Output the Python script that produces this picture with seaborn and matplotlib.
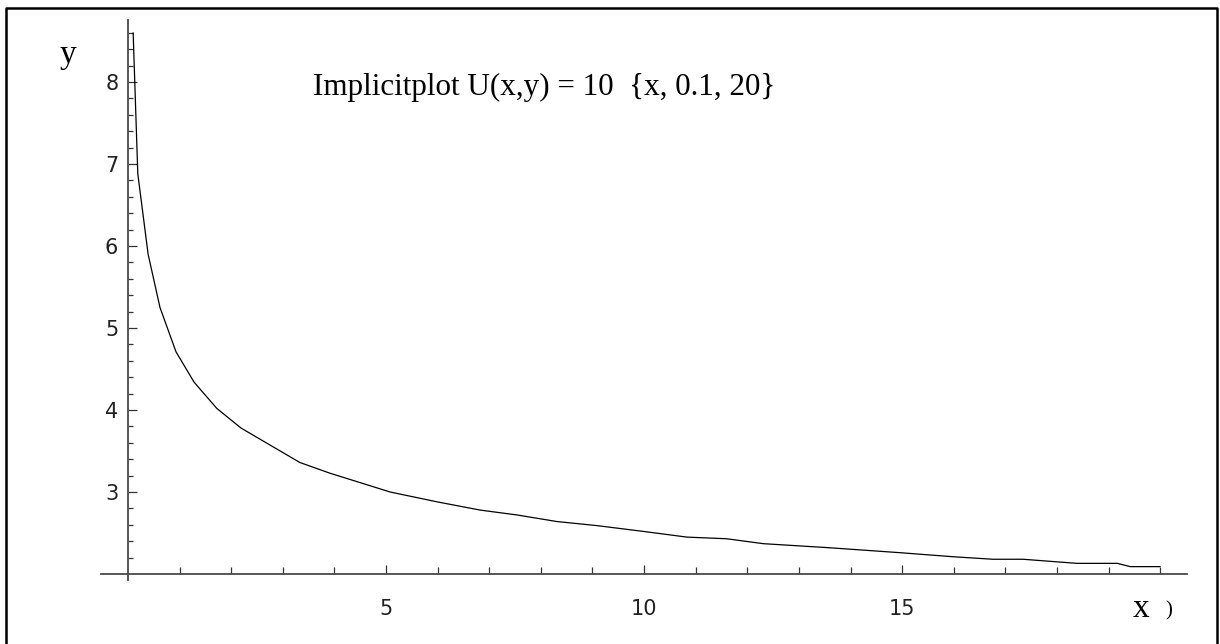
import numpy as np
import pandas as pd
import matplotlib
matplotlib.use("Agg")
import matplotlib.pyplot as plt
from matplotlib.ticker import FixedLocator
from matplotlib.lines import Line2D
import seaborn as sns

# ---- data ----
x_vals = [0.1, 0.19, 0.39, 0.62, 0.93, 1.28, 1.72, 2.19, 3.33, 3.91, 5.08, 5.99,
          6.82, 7.54, 8.31, 9.09, 9.98, 10.83, 11.6, 12.31, 13.6, 14.96, 16.0,
          16.76, 17.34, 18.39, 19.17, 19.42, 20.0]
y_vals = [8.6, 6.88, 5.90, 5.25, 4.71, 4.34, 4.02, 3.78, 3.36, 3.23, 3.00, 2.88,
          2.78, 2.72, 2.64, 2.59, 2.52, 2.45, 2.43, 2.37, 2.32, 2.26, 2.21,
          2.18, 2.18, 2.13, 2.13, 2.09, 2.09]
x_major = [5, 10, 15]
x_minor = [v for v in range(1, 21) if v not in x_major]
y_major = [3, 4, 5, 6, 7, 8]
y_minor = [round(2 + 0.2 * k, 1) for k in range(1, 34) if (k % 5) != 0]
x_tick_labels = ["5", "10", "15"]
y_tick_labels = ["3", "4", "5", "6", "7", "8"]
title_text = "Implicitplot U(x,y) = 10  {x, 0.1, 20}"

df = pd.DataFrame({"x": x_vals, "y": y_vals})

sns.set_style("white")
plt.rcParams["font.family"] = ["DejaVu Sans"]

W, H = 1220, 644
fig = plt.figure(figsize=(W / 100, H / 100), dpi=100)
fig.patch.set_facecolor("white")

# axes placed in pixel terms
left_px, right_px, top_px, bot_px = 101, 1187, 20, 580
ax = fig.add_axes([left_px / W, (H - bot_px) / H,
                   (right_px - left_px) / W, (bot_px - top_px) / H])
ax.set_facecolor("none")

sns.lineplot(data=df, x="x", y="y", ax=ax, color="black", linewidth=0.9,
             estimator=None, sort=False)

ax.set_xlim(-0.523, 20.52)
ax.set_ylim(1.927, 8.756)

ax.spines["left"].set_position(("data", 0))
ax.spines["bottom"].set_position(("data", 2))
ax.spines["top"].set_visible(False)
ax.spines["right"].set_visible(False)
for s in ("left", "bottom"):
    ax.spines[s].set_color("#4a4a4a")
    ax.spines[s].set_linewidth(1.3)

ax.xaxis.set_major_locator(FixedLocator(x_major))
ax.xaxis.set_minor_locator(FixedLocator(x_minor))
ax.yaxis.set_major_locator(FixedLocator(y_major))
ax.yaxis.set_minor_locator(FixedLocator(y_minor))
ax.set_xticklabels(x_tick_labels)
ax.set_yticklabels(y_tick_labels)

ax.tick_params(which="both", bottom=True, left=True, top=False, right=False)
ax.tick_params(axis="x", which="major", direction="in", length=6.5, width=0.9,
               color="#333333", pad=18, labelsize=15, labelcolor="#222222")
ax.tick_params(axis="x", which="minor", direction="in", length=5, width=0.9,
               color="#333333")
ax.tick_params(axis="y", which="major", direction="in", length=6.5, width=0.9,
               color="#333333", pad=7, labelsize=15, labelcolor="#222222")
ax.tick_params(axis="y", which="minor", direction="in", length=3.6, width=0.9,
               color="#333333")
ax.set_xlabel("")
ax.set_ylabel("")

serif = ["Liberation Serif", "DejaVu Serif"]
# title text
fig.text(313 / W, (H - 95) / H, title_text, ha="left", va="baseline",
         fontsize=22.4, family=serif, color="black")
# axis names
fig.text(60 / W, (H - 63) / H, "y", ha="left", va="baseline",
         fontsize=24, family=serif, color="black")
fig.text(1133 / W, (H - 617) / H, "x", ha="left", va="baseline",
         fontsize=24, family=serif, color="black")
fig.text(1165 / W, (H - 615) / H, ")", ha="left", va="baseline",
         fontsize=15, family=serif, color="black")

# outer frame (bottom edge falls outside the picture)
frame = Line2D([6 / W, 6 / W, 1217 / W, 1217 / W],
               [-0.05, (H - 8) / H, (H - 8) / H, -0.05],
               transform=fig.transFigure, color="black", linewidth=1.8)
fig.add_artist(frame)

fig.savefig("out.png", dpi=100, facecolor="white")
